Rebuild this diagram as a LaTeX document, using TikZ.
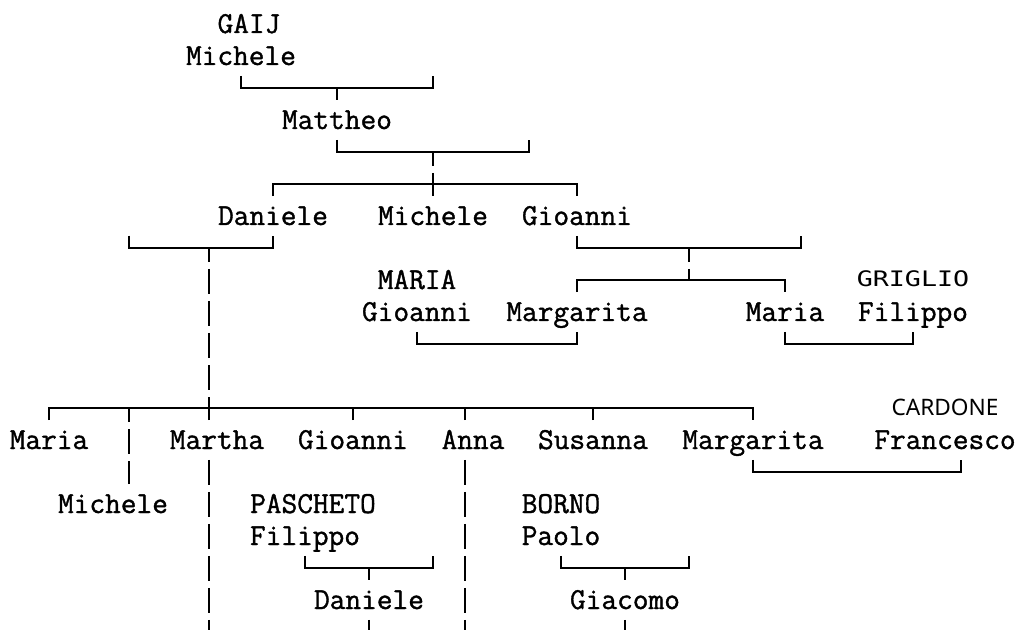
\documentclass[tikz,border=0pt]{standalone}
\usepackage{fontspec}
\usepackage{tikz}
\newfontfamily\lmono[FakeBold=1.2]{Latin Modern Mono}
\newfontfamily\dmono[FakeStretch=1.25]{DejaVu Sans Mono}
\newfontfamily\nsans{Noto Sans}
\tikzset{
  nm/.style={font=\lmono\fontsize{22.857pt}{24pt}\selectfont, inner sep=0pt,
             text height=21.375pt, text depth=7.875pt},
  grig/.style={nm, font=\dmono\fontsize{16pt}{18pt}\selectfont, yshift=1.5pt},
  card/.style={nm, font=\nsans\fontsize{17pt}{18pt}\selectfont, yshift=1.5pt},
  link/.style={line width=1.5pt},
  vlink/.style={link, dash pattern=on 18.75pt off 5.25pt, dash phase=8.25pt},
  dlink/.style={link, dash pattern=on 18.75pt off 5.25pt},
}
\begin{document}
\begin{tikzpicture}[x=12pt, y=-24pt]
  \useasboundingbox (-0.0625,-0.75) rectangle (63.625,18.9375);
  \node[nm] (gaij) at (15.5,0) {GAIJ};
  \node[nm] (michA) at (15,1) {Michele};
  \node[nm] (mattheo) at (21,3) {Mattheo};
  \node[nm] (danA) at (17,6) {Daniele};
  \node[nm] (michB) at (27,6) {Michele};
  \node[nm] (gioA) at (36,6) {Gioanni};
  \node[nm] (mariaS) at (26,8) {MARIA};
  \node[grig] (grigS) at (57,8) {GRIGLIO};
  \node[nm] (gioB) at (26,9) {Gioanni};
  \node[nm] (margA) at (36,9) {Margarita};
  \node[nm] (mariaA) at (49,9) {Maria};
  \node[nm] (filA) at (57,9) {Filippo};
  \node[card] (cardS) at (59,12) {CARDONE};
  \node[nm] (mariaB) at (3,13) {Maria};
  \node[nm] (martha) at (13.5,13) {Martha};
  \node[nm] (gioC) at (22,13) {Gioanni};
  \node[nm] (anna) at (29.5,13) {Anna};
  \node[nm] (susanna) at (37,13) {Susanna};
  \node[nm] (margB) at (47,13) {Margarita};
  \node[nm] (francesco) at (59,13) {Francesco};
  \node[nm] (michC) at (7,15) {Michele};
  \node[nm] (paschS) at (19.5,15) {PASCHETO};
  \node[nm] (bornoS) at (35,15) {BORNO};
  \node[nm] (filB) at (19,16) {Filippo};
  \node[nm] (paolo) at (35,16) {Paolo};
  \node[nm] (danB) at (23,18) {Daniele};
  \node[nm] (giacomo) at (39,18) {Giacomo};

  \coordinate (spA) at (27,1.61);
  \coordinate (spB) at (33,3.61);
  \coordinate (spC) at (8,6.61);
  \coordinate (spD) at (50,6.61);
  \coordinate (spE) at (27,16.61);
  \coordinate (spF) at (43,16.61);
  \coordinate (mA) at (21,2);
  \coordinate (mB) at (27,4);
  \coordinate (kB) at (27,5);
  \coordinate (mC) at (13,7);
  \coordinate (kC) at (13,12);
  \coordinate (mD) at (43,7);
  \coordinate (kD) at (43,8);
  \coordinate (mF) at (23,17);
  \coordinate (mG) at (39,17);
  \coordinate (endM) at (13,18.95);
  \coordinate (endA) at (29,18.95);
  \coordinate (endD) at (23,18.95);
  \coordinate (endG) at (39,18.95);

  \draw[link] (michA.south) |- (mA) -| (spA);
  \draw[link] (mA) -- (mattheo.north);
  \draw[link] (mattheo.south) |- (mB) -| (spB);
  \draw[vlink] (mB) -- (kB);
  \draw[link] (danA.north) |- (kB) -| (gioA.north);
  \draw[link] (kB) -- (michB.north);

  \draw[link] (spC) |- (mC) -| (danA.south);
  \draw[vlink] (mC) -- (kC);
  \draw[link] (gioA.south) |- (mD) -| (spD);
  \draw[vlink] (mD) -- (kD);
  \draw[link] (margA.north) |- (kD) -| (mariaA.north);
  \draw[link] (gioB.south) -- ++(0,0.39) -| (margA.south);
  \draw[link] (mariaA.south) -- ++(0,0.39) -| (filA.south);

  \draw[link] (mariaB.north) |- (kC) -| (margB.north);
  \foreach \p in {gioC, susanna}
    \draw[link] (\p.north) |- (kC);
  \draw[link] ([xshift=-6pt]martha.north) |- (kC);
  \draw[link] ([xshift=-6pt]anna.north) |- (kC);
  \draw[link, dash pattern=on 18.75pt off 5.25pt, dash phase=1.125pt] ([xshift=12pt]michC.north) |- (kC);
  \draw[link] (margB.south) -- ++(0,0.39) -| ([xshift=12pt]francesco.south);
  \draw[dlink] ([xshift=-6pt]martha.south) -- (endM);
  \draw[dlink] ([xshift=-6pt]anna.south) -- (endA);

  \draw[link] (filB.south) |- (mF) -| (spE);
  \draw[link] (mF) -- (danB.north);
  \draw[dlink] (danB.south) -- (endD);
  \draw[link] (paolo.south) |- (mG) -| (spF);
  \draw[link] (mG) -- (giacomo.north);
  \draw[dlink] (giacomo.south) -- (endG);
\end{tikzpicture}
\end{document}
